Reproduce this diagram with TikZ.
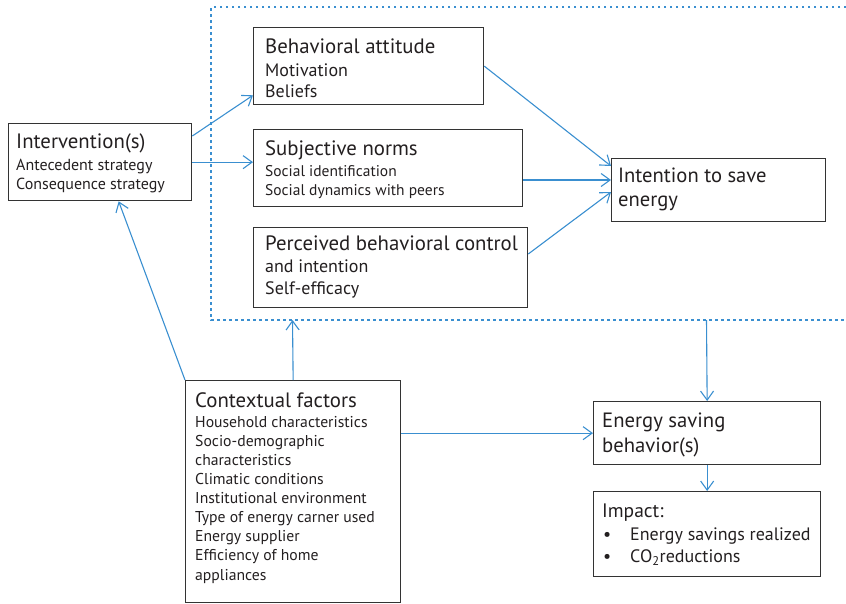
\documentclass[tikz,border=0pt]{standalone}
\usepackage{fontspec}
\setmainfont{PT Sans}
\usetikzlibrary{arrows.meta,calc}
\definecolor{txt}{HTML}{231F20}
\definecolor{boxc}{HTML}{333333}
\definecolor{blu}{HTML}{3A8FD0}
\begin{document}
\begin{tikzpicture}[x=1pt,y=-1pt,
  box/.style={draw=boxc, line width=1.3pt, inner sep=0, anchor=north west},
  hd/.style={anchor=base west, inner sep=0, text=txt, font=\fontsize{20.8}{24}\selectfont},
  bd/.style={anchor=base west, inner sep=0, align=left, text=txt},
  arr/.style={draw=blu, line width=1.1pt, -{Straight Barb[length=9pt,width=13pt,line width=1.1pt]}},
  dotbox/.style={draw=blu, line width=1.4pt, dash pattern=on 2.5pt off 3.5pt}]
\useasboundingbox (0,0) rectangle (846,603);
% dotted region
\draw[dotbox] (846,7) -- (211,7) -- (211,320) -- (846,320);
\coordinate (dotl) at (292.5,320);
\coordinate (dotr) at (706.5,320);
% boxes
\node[box, minimum width=183pt, minimum height=77pt] (intv) at (8,123) {};
\node[box, minimum width=230pt, minimum height=77pt] (ba) at (253,27) {};
\node[box, minimum width=269pt, minimum height=77pt] (sn) at (253,129) {};
\node[box, minimum width=274pt, minimum height=80pt] (pbc) at (253,227) {};
\node[box, minimum width=214pt, minimum height=63pt] (int) at (611,158) {};
\node[box, minimum width=215pt, minimum height=222pt] (cf) at (185,380) {};
\node[box, minimum width=227pt, minimum height=63pt] (esb) at (593,401) {};
\node[box, minimum width=227pt, minimum height=85pt] (imp) at (593,491) {};
% texts (multi-line nodes are placed at the baseline of their last line)
\node[hd] (intvh) at (16,148) {Intervention(s)};
\node[bd, font=\fontsize{16}{19}\selectfont] (intvb) at (16,189) {Antecedent strategy\\Consequence strategy};
\node[hd] (bah) at (265,53) {Behavioral attitude};
\node[bd, font=\fontsize{18}{21}\selectfont] (bab) at (265,97) {Motivation\\Beliefs};
\node[hd] (snh) at (265,155) {Subjective norms};
\node[bd, font=\fontsize{15.5}{18.3}\selectfont] (snb) at (265,195) {Social identification\\Social dynamics with peers};
\node[hd] (pbch) at (265,250) {Perceived behavioral control};
\node[bd, font=\fontsize{18}{22}\selectfont] (pbcb) at (265,294) {and intention\\Self-efficacy};
\node[bd, font=\fontsize{20.6}{24}\selectfont] (intt) at (618,206) {Intention to save\\energy};
\node[hd] (cfh) at (195,407) {Contextual factors};
\node[bd, font=\fontsize{15.7}{19.1}\selectfont] (cfb) at (195,580) {Household characteristics\\Socio-demographic\\characteristics\\Climatic conditions\\Institutional environment\\Type of energy carner used\\Energy supplier\\Efficiency of home\\appliances};
\node[bd, font=\fontsize{20.7}{25}\selectfont] (esbt) at (602,452) {Energy saving\\behavior(s)};
\node[hd, font=\fontsize{19.5}{22}\selectfont] (imph) at (602,517) {Impact:};
\node[bd, font=\fontsize{18}{22}\selectfont] (impb) at (603,562) {\makebox[27pt][l]{•}Energy savings realized\\\makebox[27pt][l]{•}CO\textsubscript{2}reductions};
% connectors
\draw[arr] ([yshift=-13pt]intv.north east) -- ([yshift=10pt]ba.south west);
\draw[arr] (intv.east) -- (intv.east -| sn.west);
\draw[arr] (ba.east) -- ([yshift=-8pt]int.north west);
\coordinate (inmid) at ([yshift=-22pt]int.north west);
\draw[arr] (sn.east |- inmid) -- (inmid);
\draw[arr] ([yshift=-27pt]pbc.north east) -- ([yshift=-34pt]int.north west);
\draw[arr] (cf.north west) -- ([xshift=18.5pt]intv.south);
\draw[arr] (cf.north) -- (dotl);
\draw[arr] (cf.east |- esb.west) -- (esb.west);
\draw[arr] (dotr) -- (esb.north);
\draw[arr] (esb.south) -- (imp.north);
\end{tikzpicture}
\end{document}
